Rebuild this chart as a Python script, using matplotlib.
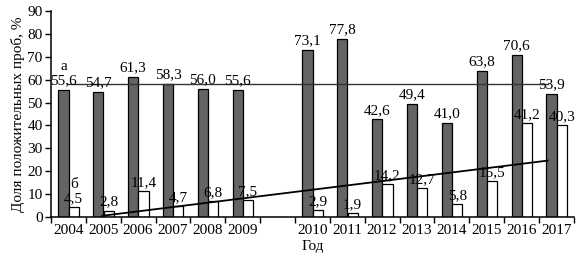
import numpy as np
import matplotlib
matplotlib.use("Agg")
import matplotlib.pyplot as plt

years = ["2004", "2005", "2006", "2007", "2008", "2009",
         "2010", "2011", "2012", "2013", "2014", "2015", "2016", "2017"]
series_a = [55.6, 54.7, 61.3, 58.3, 56.0, 55.6,
            73.1, 77.8, 42.6, 49.4, 41.0, 63.8, 70.6, 53.9]
series_b = [4.5, 2.8, 11.4, 4.7, 6.8, 7.5,
            2.9, 1.9, 14.2, 12.7, 5.8, 15.5, 41.2, 40.3]
series_names = ["а", "б"]
y_ticks = list(range(0, 91, 10))

plt.rcParams['font.family'] = ['Liberation Serif', 'DejaVu Serif']

fig = plt.figure(figsize=(5.79, 2.57), dpi=100)
ax = fig.add_axes([0.088, 0.156, 0.903, 0.801])

# slot positions with an empty slot between 2009 and 2010
pos = np.array([i if i < 6 else i + 1 for i in range(len(years))], dtype=float)
w = 0.29
xa = pos - 0.14
xb = pos + 0.155

ax.bar(xa, series_a, width=w, color="#646464", edgecolor="black", linewidth=0.9, zorder=2)
ax.bar(xb, series_b, width=w, color="white", edgecolor="black", linewidth=0.9, zorder=2)

fmt = lambda v: f"{v:.1f}".replace(".", ",")
fs = 11
for x, v in zip(xa, series_a):
    ax.text(x, v + 1.2, fmt(v), ha="center", va="bottom", fontsize=fs, zorder=4)
for x, v in zip(xb, series_b):
    ax.text(x, v + 0.8, fmt(v), ha="center", va="bottom", fontsize=fs, zorder=4)
ax.text(xa[0], series_a[0] + 7.5, series_names[0], ha="center", va="bottom", fontsize=fs)
ax.text(xb[0], series_b[0] + 7.0, series_names[1], ha="center", va="bottom", fontsize=fs)

# mean line for series a
mean_a = np.mean(series_a)
ax.plot([pos[0], pos[-1] - 0.25], [mean_a, mean_a], color="#333333", linewidth=1.0, zorder=3)

# linear trend for series b
k, b0 = np.polyfit(xb, series_b, 1)
x0 = (0.5 - b0) / k
x1 = pos[-1] - 0.25
ax.plot([x0, x1], [k * x0 + b0, k * x1 + b0], color="black", linewidth=1.3, zorder=3)

ax.set_xlim(-0.5, pos[-1] + 0.5)
ax.set_ylim(0, 90)
ax.set_yticks(y_ticks)
ax.set_yticklabels([str(t) for t in y_ticks], fontsize=fs)

ax.set_xticks(pos)
ax.set_xticklabels(years, fontsize=fs)
ax.tick_params(axis="x", which="major", length=0, pad=5)
boundaries = np.arange(-0.5, pos[-1] + 0.6, 1.0)
ax.set_xticks(boundaries, minor=True)
ax.tick_params(axis="x", which="minor", length=4, width=1, direction="out")
ax.tick_params(axis="y", length=4, width=1, direction="out", pad=2)

for s in ["top", "right"]:
    ax.spines[s].set_visible(False)
for s in ["left", "bottom"]:
    ax.spines[s].set_linewidth(1.1)

ax.set_ylabel("Доля положительных проб, %", fontsize=fs, labelpad=2)
ax.set_xlabel("Год", fontsize=fs, labelpad=2)

fig.savefig("out.png", dpi=100)
